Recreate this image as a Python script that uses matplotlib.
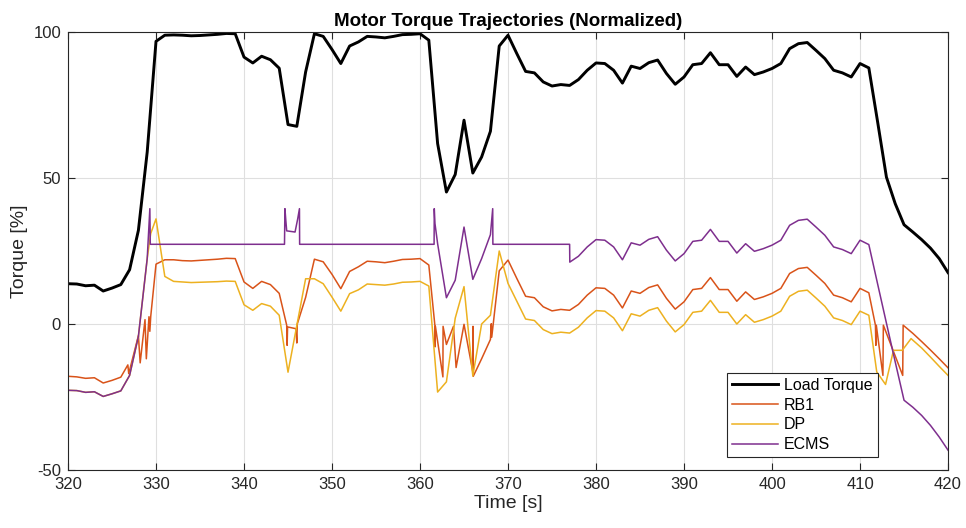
import numpy as np
import matplotlib.pyplot as plt

plt.rcParams['font.family'] = ['Liberation Sans', 'DejaVu Sans']
plt.rcParams['axes.unicode_minus'] = False

# load torque, sampled every second
t_load = np.arange(320, 421)
load = [13.8, 13.7, 13.1, 13.3, 11.3, 12.3, 13.5, 18.6, 32.1, 58.9,
        96.8, 98.9, 99.0, 98.9, 98.7, 98.8, 99.0, 99.2, 99.5, 99.4,
        91.4, 89.4, 91.7, 90.5, 87.6, 68.3, 67.7, 86.3, 99.4, 98.5,
        94.0, 89.2, 95.2, 96.6, 98.5, 98.3, 98.0, 98.5, 99.1, 99.2,
        99.4, 97.2, 61.8, 45.2, 51.2, 69.8, 51.7, 57.2, 66.0, 95.2,
        98.9, 92.6, 86.5, 86.0, 82.9, 81.5, 82.0, 81.7, 83.7, 86.9,
        89.4, 89.2, 86.9, 82.5, 88.3, 87.5, 89.5, 90.4, 85.8, 82.1,
        84.6, 88.8, 89.2, 92.9, 88.8, 88.8, 84.8, 88.0, 85.4, 86.3,
        87.5, 89.2, 94.3, 96.0, 96.4, 93.7, 90.9, 86.9, 86.0, 84.6,
        89.2, 87.7, 69.2, 50.3, 41.2, 34.0, 31.5, 28.9, 26.0, 22.4,
        17.6]

# RB1 (extra samples around mode switches)
t_rb1 = ([320, 321, 322, 323, 324, 325, 326, 326.8, 326.9, 328.0, 328.2,
          328.75, 328.9, 329.2, 329.3, 329.4]
         + list(range(330, 345))
         + [344.85, 344.9, 344.95, 345.9, 346.0, 346.05]
         + list(range(347, 362))
         + [361.7, 361.72, 361.75, 362.6, 362.62, 363.0, 363.8, 364.1, 365.0,
            366.0, 366.02, 366.05, 367.0, 368.0, 368.1, 368.15]
         + list(range(369, 412))
         + [411.75, 411.8, 411.85, 412.6, 412.65, 414.85, 414.9,
            416, 417, 418, 419, 420])
rb1 = ([-17.9, -18.1, -18.6, -18.4, -20.2, -19.3, -18.2, -14.0, -17.0, -4.0,
        -13.3, 1.5, -11.9, 2.5, -2.5, 2.6]
       + [20.5, 22.0, 22.0, 21.7, 21.6, 21.8, 22.0, 22.2, 22.5, 22.4,
          14.4, 12.2, 14.6, 13.5, 10.5]
       + [-0.4, -7.3, -1.0, -1.6, -6.5, 0.0]
       + [9.1, 22.2, 21.3, 17.0, 12.1, 18.0, 19.6, 21.5, 21.3, 21.0,
          21.5, 22.1, 22.2, 22.4, 20.2]
       + [-0.8, -7.8, -0.8, -18.1, -0.8, -7.0, -0.8, -14.9, -0.1,
          -16.4, -0.8, -17.9, -11.9, -5.3, 0.1, -4.5]
       + [18.2, 21.9, 15.6, 9.5, 9.0, 5.9, 4.5, 5.0, 4.7, 6.7,
          9.9, 12.4, 12.2, 9.9, 5.5, 11.3, 10.5, 12.5, 13.4, 8.8,
          5.1, 7.6, 11.8, 12.2, 15.9, 11.8, 11.8, 7.8, 11.0, 8.4,
          9.3, 10.5, 12.2, 17.3, 19.0, 19.4, 16.7, 13.9, 9.9, 9.0,
          7.6, 12.2, 10.7]
       + [-0.4, -7.3, -0.4, -17.6, -0.4, -17.6, -0.4,
          -3.2, -6.0, -8.9, -11.9, -15.0])

# DP
t_dp = (list(range(320, 330)) + [329.4]
        + list(range(330, 347))
        + list(range(347, 412))
        + [411.9, 412.9, 413.8, 414.8, 415.8, 417, 418, 419, 420])
dp = ([-22.7, -22.8, -23.4, -23.2, -24.8, -23.9, -22.9, -17.6, -4.2, 22.4]
      + [31.0]
      + [36.0, 16.3, 14.6, 14.4, 14.2, 14.3, 14.4, 14.5, 14.7, 14.6,
         6.6, 4.7, 7.0, 6.1, 3.0, -16.5, -0.5]
      + [15.5, 15.5, 13.8, 9.2, 4.4, 10.4, 11.7, 13.7, 13.5, 13.3,
         13.7, 14.3, 14.4, 14.6, 13.0,
         -23.3, -19.8, 2.0, 12.8, -17.8, 0.0, 3.0, 25.0,
         13.9, 7.8, 1.7, 1.2, -1.9, -3.3, -2.8, -3.1, -1.1, 2.1,
         4.6, 4.4, 2.1, -2.3, 3.5, 2.7, 4.7, 5.6, 1.0, -2.7,
         -0.2, 4.0, 4.4, 8.1, 4.0, 4.0, 0.0, 3.2, 0.6, 1.5,
         2.7, 4.4, 9.5, 11.2, 11.6, 8.9, 6.1, 2.1, 1.2, -0.2,
         4.4, 3.0]
      + [-16.4, -20.7, -9.0, -9.0, -5.0, -8.2, -11.3, -14.5, -17.6])

# ECMS
t_ecms = (list(range(320, 330))
          + [329.3, 329.35, 344.6, 344.65, 344.75, 344.85, 345.8, 346.1,
             346.3, 346.32, 361.6, 361.62, 361.7, 362, 363, 364, 365, 366,
             367, 368, 368.26, 368.28, 377, 377.02]
          + list(range(378, 421)))
ecms = ([-22.7, -22.8, -23.4, -23.2, -24.8, -23.9, -22.9, -17.6, -4.2, 22.4]
        + [39.5, 27.3, 27.3, 39.5, 35.5, 31.9, 31.5, 36.0,
           39.5, 27.3, 27.3, 39.5, 34.4, 27.5, 9.0, 15.0, 33.2, 15.3,
           22.4, 30.6, 39.5, 27.3, 27.3, 21.2]
        + [23.2, 26.4, 28.9, 28.7, 26.4, 22.0, 27.8, 27.0, 29.0, 29.9,
           25.3, 21.6, 24.1, 28.3, 28.7, 32.4, 28.3, 28.3, 24.3, 27.5,
           24.9, 25.8, 27.0, 28.7, 33.8, 35.5, 35.9, 33.2, 30.4, 26.4,
           25.5, 24.1, 28.7, 27.2, 13.7, 0.3, -13.0, -26.1, -28.5, -31.3,
           -34.7, -38.7, -43.2])

fig = plt.figure(figsize=(9.66, 5.28), dpi=100)
ax = fig.add_axes([0.0704, 0.1098, 0.911, 0.8296])

ax.plot(t_load, load, color='black', lw=2.1, label='Load Torque')
ax.plot(t_rb1, rb1, color='#D95319', lw=1.1, label='RB1')
ax.plot(t_dp, dp, color='#EDB120', lw=1.1, label='DP')
ax.plot(t_ecms, ecms, color='#7E2F8E', lw=1.1, label='ECMS')

ax.set_xlim(320, 420)
ax.set_ylim(-50, 100)
ax.set_xticks(np.arange(320, 421, 10))
ax.set_yticks([-50, 0, 50, 100])
ax.grid(True, color='#dfdfdf', lw=0.8)
ax.set_axisbelow(True)

dark = '#262626'
for s in ax.spines.values():
    s.set_color(dark)
    s.set_linewidth(0.8)
ax.tick_params(direction='in', top=True, right=True, colors=dark,
               labelsize=12, length=5, width=0.8, pad=5)

ax.set_title('Motor Torque Trajectories (Normalized)', fontsize=13.5,
             fontweight='bold', pad=4)
ax.set_xlabel('Time [s]', fontsize=14, color=dark, labelpad=2)
ax.set_ylabel('Torque [%]', fontsize=14, color=dark, labelpad=4)

leg = ax.legend(loc='lower right', bbox_to_anchor=(0.92, 0.03),
                fontsize=11.5, fancybox=False, framealpha=1,
                edgecolor=dark, handlelength=2.9, borderpad=0.3,
                labelspacing=0.3, handletextpad=0.4, borderaxespad=0)
leg.get_frame().set_linewidth(0.8)

fig.savefig('out.png', dpi=100)
